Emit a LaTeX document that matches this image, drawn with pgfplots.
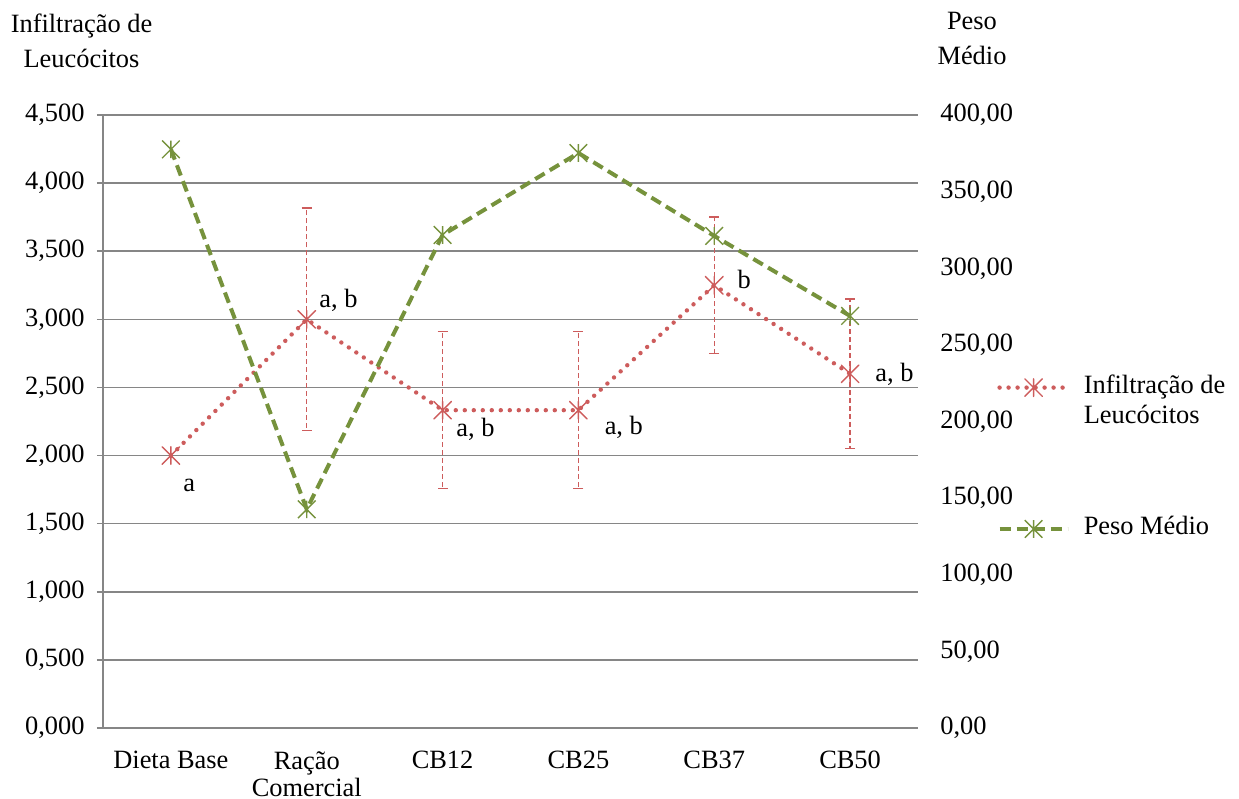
\documentclass[border=0pt]{standalone}
\usepackage{pgfplots}
\pgfplotsset{compat=1.18}
\usepackage{fontspec}
\setmainfont{Liberation Serif}
\definecolor{redser}{RGB}{205,92,92}
\definecolor{greenser}{RGB}{118,146,60}
\definecolor{gridc}{RGB}{134,134,134}
\pgfdeclareplotmark{xast}{%
  \pgfpathmoveto{\pgfqpoint{-\pgfplotmarksize}{-\pgfplotmarksize}}%
  \pgfpathlineto{\pgfqpoint{\pgfplotmarksize}{\pgfplotmarksize}}%
  \pgfpathmoveto{\pgfqpoint{-\pgfplotmarksize}{\pgfplotmarksize}}%
  \pgfpathlineto{\pgfqpoint{\pgfplotmarksize}{-\pgfplotmarksize}}%
  \pgfpathmoveto{\pgfqpoint{0pt}{-\pgfplotmarksize}}%
  \pgfpathlineto{\pgfqpoint{0pt}{\pgfplotmarksize}}%
  \pgfusepathqstroke}
\newcommand{\px}[2]{({#1*0.5pt},{(799-#2)*0.5pt})}
\begin{document}
\fontsize{13.2}{14.6}\selectfont
\begin{tikzpicture}
\path[use as bounding box] (0,0) rectangle (619.5pt,399.5pt);
\node[anchor=base,inner sep=0] at \px{81.5}{33} {Infiltração de};
\node[anchor=base,inner sep=0] at \px{81.5}{68} {Leucócitos};
\node[anchor=base,inner sep=0] at \px{972}{30} {Peso};
\node[anchor=base,inner sep=0] at \px{972}{65} {Médio};
\begin{axis}[
  at={(51.5pt,35.5pt)}, anchor=south west,
  width=407.5pt, height=306.5pt, scale only axis,
  xmin=-0.5, xmax=5.5, ymin=0, ymax=4.5,
  axis x line*=bottom, axis y line*=left,
  axis line style={gridc, line width=0.8pt, -},
  xtick={0,1,2,3,4,5},
  xticklabels={Dieta Base,{Ração\\[-0.8pt]Comercial},CB12,CB25,CB37,CB50},
  xticklabel style={align=center, inner sep=0pt, yshift=-8.5pt},
  x tick style={draw=none},
  extra x ticks={-0.5,0.5,1.5,2.5,3.5,4.5,5.5},
  extra x tick labels={},
  extra x tick style={tick style={draw=gridc, line width=0.8pt}, major tick length=3.5pt, tick align=outside},
  ytick={0,0.5,...,4.5},
  ymajorgrids, grid style={gridc, line width=0.8pt},
  y tick style={draw=gridc, line width=0.8pt},
  tick align=outside, major tick length=3pt,
  yticklabel style={inner sep=0pt, xshift=-6pt,
    /pgf/number format/.cd, fixed, fixed zerofill, precision=3, use comma, assume math mode=true},
  clip=false,
]
\addplot[redser, line width=2.2pt, line cap=round, dash pattern=on 0pt off 4.5pt,
  mark=xast, mark size=4.4pt, mark options={solid, line width=0.7pt}]
  coordinates {(0,2.0) (1,3.0) (2,2.333) (3,2.333) (4,3.25) (5,2.6)};
\addplot[draw=none, mark=none, forget plot,
  error bars/.cd, y dir=both, y explicit,
  error bar style={draw=redser, line width=0.7pt, dash pattern=on 2.5pt off 1.5pt},
  error mark options={draw=redser, solid, line width=0.7pt, mark size=2.5pt, rotate=90}]
  coordinates {(1,3.0) +- (0,0.816) (2,2.333) +- (0,0.577) (3,2.333) +- (0,0.577) (4,3.25) +- (0,0.5) (5,2.6) +- (0,0.548)};
\node[anchor=base west, inner sep=0] at (axis cs:0.089,1.733) {a};
\node[anchor=base west, inner sep=0] at (axis cs:1.090,3.084) {a, b};
\node[anchor=base west, inner sep=0] at (axis cs:2.099,2.137) {a, b};
\node[anchor=base west, inner sep=0] at (axis cs:3.191,2.151) {a, b};
\node[anchor=base west, inner sep=0] at (axis cs:4.170,3.228) {b};
\node[anchor=base west, inner sep=0] at (axis cs:5.184,2.543) {a, b};
\end{axis}
\begin{axis}[
  at={(51.5pt,35.5pt)}, anchor=south west,
  width=407.5pt, height=306.5pt, scale only axis,
  xmin=-0.5, xmax=5.5, ymin=0, ymax=400,
  axis x line=none, axis y line*=right,
  y axis line style={draw=none},
  ytick={0,50,...,400}, y tick style={draw=none}, major tick length=0pt,
  yticklabel style={inner sep=0pt, anchor=west, xshift=11pt,
    /pgf/number format/.cd, fixed, fixed zerofill, precision=2, use comma, assume math mode=true},
  legend cell align=left,
  legend image code/.code={\draw[mark repeat=2, mark phase=2, #1] plot coordinates {(0pt,-1pt) (17pt,-1pt) (34pt,-1pt)};},
  legend style={draw=none, fill=none, inner sep=0pt, at={(rel axis cs:1,0)}, anchor=north west, xshift=39.5pt, yshift=179.5pt,
    row sep=55pt, /tikz/every odd column/.append style={column sep=5pt}},
  clip=false,
]
\addlegendimage{redser, line width=2.2pt, line cap=round, dash pattern=on 0pt off 4.5pt,
  mark=xast, mark size=4.4pt, mark options={solid, line width=0.7pt}}
\addlegendentry{\begin{tabular}[t]{@{}l@{}}Infiltração de\\Leucócitos\end{tabular}}
\addplot[greenser, line width=2pt, dash pattern=on 5.5pt off 3pt,
  mark=xast, mark size=4.4pt, mark options={solid, line width=0.7pt}]
  coordinates {(0,377.6) (1,142.7) (2,321.7) (3,375.2) (4,321.1) (5,268.9)};
\addlegendentry{Peso Médio}
\end{axis}
\end{tikzpicture}
\end{document}
